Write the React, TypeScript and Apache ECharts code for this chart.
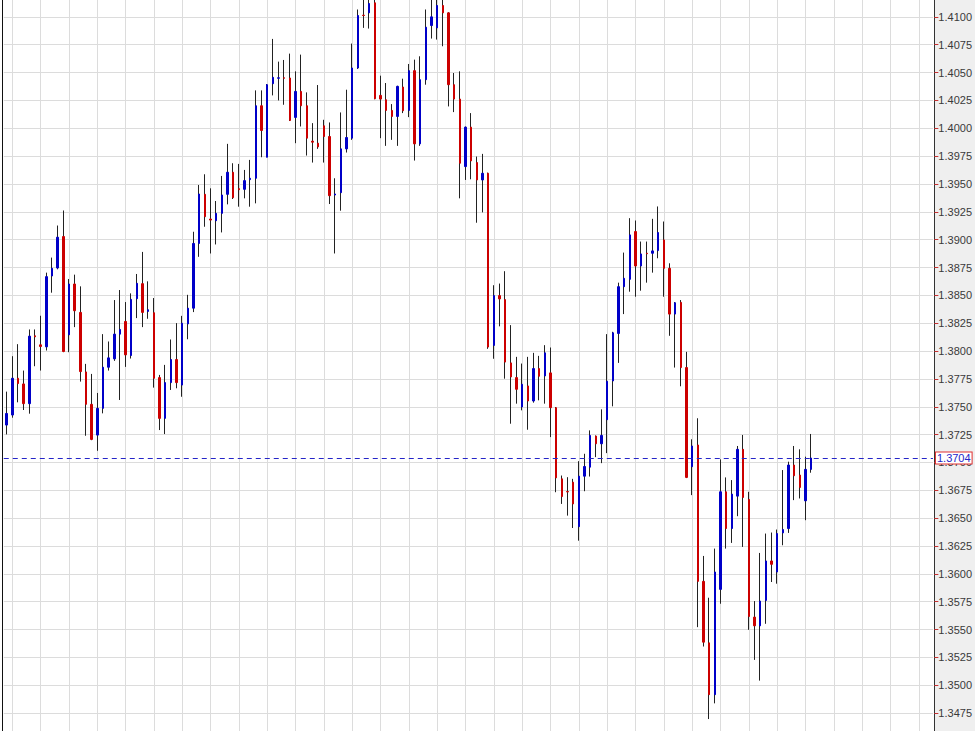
import React, { useEffect, useRef } from "react";
import * as echarts from "echarts";

// OHLC values (one entry per candle, left to right)
const opens = [
  1.37336, 1.37426, 1.37756, 1.37705, 1.37528, 1.38137, 1.38056, 1.38038, 1.38674, 1.38746,
  1.39028, 1.38146, 1.38602, 1.38347, 1.37813, 1.37522, 1.37246, 1.37486, 1.37855, 1.3793,
  1.38152, 1.38266, 1.3796, 1.3847, 1.38605, 1.38356, 1.38344, 1.37762, 1.37396, 1.37717,
  1.37924, 1.37695, 1.38244, 1.38385, 1.38966, 1.39407, 1.39185, 1.3917, 1.39236, 1.39407,
  1.39605, 1.39458, 1.39452, 1.39539, 1.39551, 1.40202, 1.3974, 1.404, 1.40449, 1.40453,
  1.40451, 1.40097, 1.40331, 1.40202, 1.39884, 1.39866, 1.40022, 1.39926, 1.39401, 1.39422,
  1.39815, 1.39911, 1.40541, 1.41015, 1.41036, 1.41126, 1.40295, 1.40256, 1.4016, 1.40106,
  1.4037, 1.4016, 1.40517, 1.3986, 1.40436, 1.40922, 1.40901, 1.41102, 1.41036, 1.40391,
  1.40262, 1.39656, 1.4001, 1.39692, 1.39536, 1.39596, 1.38051, 1.38498, 1.38462, 1.37894,
  1.37762, 1.37498, 1.37687, 1.37552, 1.37843, 1.37777, 1.37804, 1.37492, 1.36853, 1.36739,
  1.36823, 1.36424, 1.36877, 1.36958, 1.37237, 1.37168, 1.37384, 1.37732, 1.38158, 1.38578,
  1.38644, 1.39073, 1.38764, 1.38878, 1.38878, 1.38902, 1.38998, 1.38743, 1.38332, 1.38437,
  1.37852, 1.36962, 1.37157, 1.35933, 1.35381, 1.34916, 1.35861, 1.36737, 1.36407, 1.36698,
  1.37118, 1.36668, 1.35612, 1.35534, 1.35762, 1.36116, 1.36017, 1.36368, 1.36407, 1.36977,
  1.36887, 1.36656, 1.36938,
];

const closes = [
  1.3744, 1.37756, 1.37708, 1.37528, 1.38134, 1.38128, 1.38041, 1.38668, 1.38743, 1.39022,
  1.37996, 1.38602, 1.38362, 1.37816, 1.37522, 1.37207, 1.37486, 1.37855, 1.37939, 1.38152,
  1.38194, 1.37966, 1.38464, 1.38608, 1.38347, 1.38371, 1.37756, 1.37396, 1.37717, 1.37924,
  1.37717, 1.3825, 1.38385, 1.38966, 1.3941, 1.39206, 1.39176, 1.39236, 1.39401, 1.39605,
  1.39377, 1.39449, 1.3953, 1.39551, 1.40202, 1.3998, 1.40391, 1.40457, 1.40453, 1.40449,
  1.4007, 1.40331, 1.40202, 1.39911, 1.39875, 1.39833, 1.39926, 1.39395, 1.3941, 1.39815,
  1.39917, 1.40541, 1.41012, 1.41012, 1.4112, 1.40265, 1.40262, 1.4016, 1.40106, 1.40376,
  1.40157, 1.40517, 1.3986, 1.40436, 1.40907, 1.41, 1.41102, 1.41036, 1.40391, 1.40262,
  1.39686, 1.4001, 1.39707, 1.39536, 1.39596, 1.38036, 1.38498, 1.38468, 1.37901, 1.37768,
  1.37657, 1.37702, 1.37552, 1.37843, 1.37774, 1.37984, 1.37492, 1.36862, 1.36694, 1.36736,
  1.36628, 1.36877, 1.36964, 1.37243, 1.37168, 1.37243, 1.37729, 1.38164, 1.38578, 1.38653,
  1.39043, 1.38764, 1.38872, 1.38874, 1.38899, 1.39064, 1.38743, 1.38332, 1.38434, 1.37852,
  1.36866, 1.37148, 1.35933, 1.35387, 1.34916, 1.36017, 1.36737, 1.36407, 1.36716, 1.37118,
  1.36686, 1.35618, 1.35534, 1.35756, 1.36116, 1.36086, 1.36362, 1.36398, 1.36977, 1.36881,
  1.36776, 1.36938, 1.3704,
];

const lows = [
  1.37252, 1.37402, 1.3754, 1.37471, 1.37438, 1.37864, 1.37825, 1.38005, 1.38524, 1.38734,
  1.3799, 1.3799, 1.38215, 1.37726, 1.3724, 1.372, 1.37105, 1.37441, 1.37825, 1.37912,
  1.37561, 1.37858, 1.37933, 1.38296, 1.38215, 1.3829, 1.37672, 1.37291, 1.37255, 1.37651,
  1.37666, 1.3759, 1.38106, 1.3835, 1.38846, 1.39116, 1.38876, 1.38957, 1.39065, 1.39317,
  1.39365, 1.39296, 1.39371, 1.39296, 1.39326, 1.3974, 1.3974, 1.40295, 1.4025, 1.40211,
  1.40065, 1.39866, 1.40016, 1.39755, 1.39692, 1.39815, 1.39692, 1.3932, 1.38876, 1.3926,
  1.39782, 1.39896, 1.40532, 1.40901, 1.40895, 1.4026, 1.39911, 1.39842, 1.39896, 1.39842,
  1.40136, 1.401, 1.3971, 1.39842, 1.40391, 1.40805, 1.40796, 1.40736, 1.40196, 1.40145,
  1.39371, 1.39536, 1.39542, 1.39152, 1.39245, 1.3802, 1.37931, 1.38222, 1.37752, 1.37348,
  1.37528, 1.37468, 1.37294, 1.37537, 1.37558, 1.37528, 1.37228, 1.36733, 1.36628, 1.36523,
  1.36412, 1.36298, 1.36742, 1.36874, 1.37048, 1.36994, 1.37084, 1.37504, 1.37894, 1.38332,
  1.38533, 1.38488, 1.38542, 1.38614, 1.38704, 1.38833, 1.38488, 1.38137, 1.37852, 1.37684,
  1.3686, 1.36707, 1.35522, 1.35348, 1.34697, 1.34838, 1.35732, 1.36227, 1.36278, 1.36518,
  1.36242, 1.35498, 1.35228, 1.35042, 1.35552, 1.35927, 1.35912, 1.36257, 1.36368, 1.36662,
  1.36677, 1.36482, 1.36908,
];

const highs = [
  1.37636, 1.37954, 1.38062, 1.37825, 1.38194, 1.38194, 1.38317, 1.38704, 1.38839, 1.39127,
  1.39262, 1.38647, 1.38686, 1.38581, 1.37885, 1.37795, 1.37624, 1.38152, 1.38086, 1.38458,
  1.38548, 1.3844, 1.38518, 1.38692, 1.3889, 1.38626, 1.38476, 1.37786, 1.37876, 1.38104,
  1.38251, 1.38316, 1.38505, 1.39071, 1.39491, 1.39587, 1.39461, 1.39347, 1.39572, 1.3986,
  1.39686, 1.3968, 1.39626, 1.39716, 1.4034, 1.4034, 1.40397, 1.40802, 1.40598, 1.40613,
  1.4067, 1.40511, 1.40661, 1.40322, 1.40046, 1.40388, 1.40076, 1.40052, 1.39551, 1.40142,
  1.40346, 1.4076, 1.41066, 1.4118, 1.4117, 1.4117, 1.40472, 1.40406, 1.40217, 1.40382,
  1.40445, 1.40577, 1.40616, 1.40646, 1.41066, 1.4117, 1.4118, 1.4117, 1.41042, 1.40496,
  1.40511, 1.40016, 1.40136, 1.39746, 1.3977, 1.39602, 1.38591, 1.38606, 1.38717, 1.38233,
  1.37948, 1.37888, 1.37948, 1.37984, 1.37957, 1.38053, 1.38032, 1.37498, 1.36883, 1.36868,
  1.36853, 1.37012, 1.37078, 1.37288, 1.37243, 1.37477, 1.38152, 1.38173, 1.38614, 1.38884,
  1.39193, 1.39172, 1.38983, 1.38983, 1.39187, 1.39298, 1.39163, 1.38788, 1.3844, 1.38458,
  1.37993, 1.37208, 1.37397, 1.36161, 1.35786, 1.36227, 1.37028, 1.36866, 1.36842, 1.37148,
  1.37247, 1.36737, 1.35756, 1.36188, 1.36362, 1.36371, 1.36398, 1.36932, 1.37007, 1.37148,
  1.37118, 1.37052, 1.37256,
];

// Category slots: candles plus empty space to the right of the last candle
const SLOT_COUNT = 164;
const categories = Array.from({ length: SLOT_COUNT }, (_, i) => String(i + 1));

// Price axis
const Y_MIN = 1.345;
const Y_MAX = 1.4125;
const Y_STEP = 0.0025;
const LAST_PRICE = 1.3704;

const UP_COLOR = "#0000c8";
const DOWN_COLOR = "#cc0000";
const WICK_COLOR = "#222222";
const GRID_COLOR = "#dcdcdc";

export default function App() {
  const ref = useRef<HTMLDivElement>(null);

  useEffect(() => {
    if (!ref.current) return;
    const chart = echarts.init(ref.current, undefined, { renderer: "svg" });

    const bodies = opens.map((o, i) => {
      const c = closes[i];
      return [o, c, Math.min(o, c), Math.max(o, c)];
    });
    const wicks = opens.map((_, i) => [lows[i], lows[i], lows[i], highs[i]]);

    chart.setOption({
      animation: false,
      backgroundColor: "#ffffff",
      graphic: [
        {
          type: "rect",
          left: 934,
          top: 0,
          shape: { width: 41, height: 752 },
          style: { fill: "#efefef" },
          z: -1,
          silent: true,
        },
      ],
      grid: {
        left: 3.77,
        right: 41.4,
        top: 0,
        bottom: 0,
        show: true,
        backgroundColor: "#ffffff",
        borderWidth: 0,
      },
      xAxis: {
        type: "category",
        data: categories,
        boundaryGap: true,
        axisLine: { show: false },
        axisTick: { show: false },
        axisLabel: { show: false },
        splitLine: {
          show: true,
          alignWithLabel: true,
          interval: (idx: number) => idx % 5 === 1,
          lineStyle: { color: GRID_COLOR, width: 1 },
        },
      },
      yAxis: [
        {
          type: "value",
          position: "right",
          offset: 1.4,
          min: Y_MIN,
          max: Y_MAX,
          interval: Y_STEP,
          scale: true,
          axisLine: { show: true, lineStyle: { color: "#333333", width: 1 } },
          axisTick: { show: true, length: 4, lineStyle: { color: "#c83232" } },
          axisLabel: {
            show: true,
            margin: 4,
            color: "#3a3a3a",
            fontSize: 11,
            fontFamily: "Liberation Sans, Arial, sans-serif",
            showMinLabel: false,
            showMaxLabel: false,
            formatter: (v: number) => v.toFixed(4),
          },
          splitLine: { show: true, lineStyle: { color: GRID_COLOR, width: 1 } },
        },
        {
          type: "value",
          position: "left",
          offset: 2,
          min: Y_MIN,
          max: Y_MAX,
          axisLine: { show: true, lineStyle: { color: "#111111", width: 1 } },
          axisTick: { show: false },
          axisLabel: { show: false },
          splitLine: { show: false },
        },
      ],
      series: [
        {
          name: "wicks",
          type: "candlestick",
          yAxisIndex: 0,
          data: wicks,
          barWidth: 1,
          z: 2,
          itemStyle: {
            color: WICK_COLOR,
            color0: WICK_COLOR,
            borderColor: WICK_COLOR,
            borderColor0: WICK_COLOR,
            borderWidth: 1,
          },
          silent: true,
        },
        {
          name: "bodies",
          type: "candlestick",
          yAxisIndex: 0,
          data: bodies,
          barWidth: 2,
          z: 3,
          itemStyle: {
            color: UP_COLOR,
            color0: DOWN_COLOR,
            borderColor: UP_COLOR,
            borderColor0: DOWN_COLOR,
            borderWidth: 1,
          },
          silent: true,
          markLine: {
            silent: true,
            precision: 6,
            symbol: ["none", "none"],
            lineStyle: { color: "#2525c8", type: [5, 4], width: 1 },
            label: {
              show: true,
              position: "end",
              distance: 3,
              formatter: () => LAST_PRICE.toFixed(4),
              color: "#2525c8",
              backgroundColor: "#ffffff",
              borderColor: "#e03030",
              borderWidth: 1,
              padding: [0, 1, 0, 1],
              fontSize: 11,
              lineHeight: 11,
              fontFamily: "Liberation Sans, Arial, sans-serif",
            },
            data: [{ yAxis: LAST_PRICE }],
          },
        },
      ],
    });

    return () => {
      chart.dispose();
    };
  }, []);

  return (
    <div
      style={{
        position: "absolute",
        left: 0,
        top: 0,
        width: 975,
        height: 731,
        overflow: "hidden",
        background: "#ffffff",
      }}
    >
      <div
        ref={ref}
        style={{ position: "absolute", left: 0, top: -11, width: 975, height: 752 }}
      />
    </div>
  );
}
